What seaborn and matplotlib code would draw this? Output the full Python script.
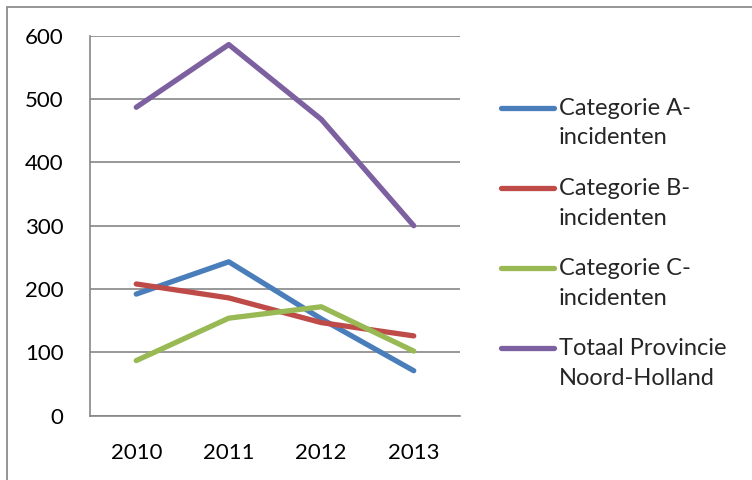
import numpy as np
import pandas as pd
import seaborn as sns
import matplotlib
matplotlib.use("Agg")
import matplotlib.pyplot as plt
from matplotlib.lines import Line2D
from matplotlib.patches import Rectangle
from matplotlib.legend_handler import HandlerLine2D

# ---- data ----
years = [2010, 2011, 2012, 2013]
cat_a = [192, 243, 153, 71]
cat_b = [208, 186, 147, 126]
cat_c = [87, 154, 172, 102]
totaal = [487, 586, 468, 300]
series_names = ["Categorie A-\nincidenten", "Categorie B-\nincidenten",
                "Categorie C-\nincidenten", "Totaal Provincie\nNoord-Holland"]
y_ticks = [0, 100, 200, 300, 400, 500, 600]
colors = ["#4A7EBB", "#BE4B48", "#98B954", "#7D60A0"]

rows = []
for name, vals in zip(series_names, [cat_a, cat_b, cat_c, totaal]):
    for yr, v in zip(years, vals):
        rows.append({"year": yr, "value": v, "series": name})
df = pd.DataFrame(rows)

sns.set_theme(style="white")
plt.rcParams["font.family"] = ["Lato", "DejaVu Sans"]
FS = 16
LFS = 17
GRID = "#868686"

fig = plt.figure(figsize=(7.52, 4.8), dpi=100)
ax = fig.add_axes([90 / 752, (480 - 415.7) / 480, 370 / 752, 380 / 480])

sns.lineplot(data=df, x="year", y="value", hue="series", hue_order=series_names,
             palette=colors, linewidth=3.8, ax=ax, legend=False,
             solid_capstyle="round", solid_joinstyle="round")

ax.set_xlim(2009.5, 2013.5)
ax.set_ylim(0, 600)
ax.set_yticks(y_ticks)
ax.set_yticklabels([str(t) for t in y_ticks], fontsize=FS, color="black")
ax.set_xticks([2009.5, 2010.5, 2011.5, 2012.5, 2013.5])
ax.set_xticklabels([])
ax.set_xticks(years, minor=True)
ax.set_xticklabels([str(y) for y in years], minor=True, fontsize=FS, color="black")
ax.tick_params(axis="x", which="major", length=6, width=1.2, color=GRID, direction="out")
ax.tick_params(axis="x", which="minor", length=0, pad=20)
ax.tick_params(axis="y", which="major", length=6, width=1.2, color=GRID, direction="out", pad=13)
ax.set_xlabel("")
ax.set_ylabel("")
ax.yaxis.grid(True, color=GRID, linewidth=1.2)
ax.xaxis.grid(False)
for s in ["top", "right"]:
    ax.spines[s].set_visible(False)
for s in ["left", "bottom"]:
    ax.spines[s].set_color(GRID)
    ax.spines[s].set_linewidth(1.2)
ax.set_axisbelow(True)


class TopAligned(HandlerLine2D):
    def __init__(self, shift, **kw):
        super().__init__(**kw)
        self.shift = shift

    def create_artists(self, legend, orig_handle, xdescent, ydescent, width,
                       height, fontsize, trans):
        arts = super().create_artists(legend, orig_handle, xdescent, ydescent,
                                      width, height, fontsize, trans)
        for a in arts:
            a.set_ydata(np.asarray(a.get_ydata(), dtype=float) + self.shift)
        return arts


handles = [Line2D([], [], color=c, linewidth=3.8, solid_capstyle="round") for c in colors]
leg = fig.legend(handles, series_names, loc="upper left",
                 bbox_to_anchor=(501 / 752, 1 - 98 / 480), bbox_transform=fig.transFigure,
                 frameon=False, fontsize=LFS, handlelength=2.25, handletextpad=0.2,
                 labelspacing=1.25, borderpad=0, borderaxespad=0,
                 handler_map={Line2D: TopAligned(11.5)})
for t in leg.get_texts():
    t.set_linespacing(1.5)

fig.patches.append(Rectangle((7 / 752, -0.1), 1.5, 1.1 - 7 / 480, transform=fig.transFigure,
                             fill=False, edgecolor="#8c8c8c", linewidth=1.3))

fig.savefig("out.png", dpi=100)
